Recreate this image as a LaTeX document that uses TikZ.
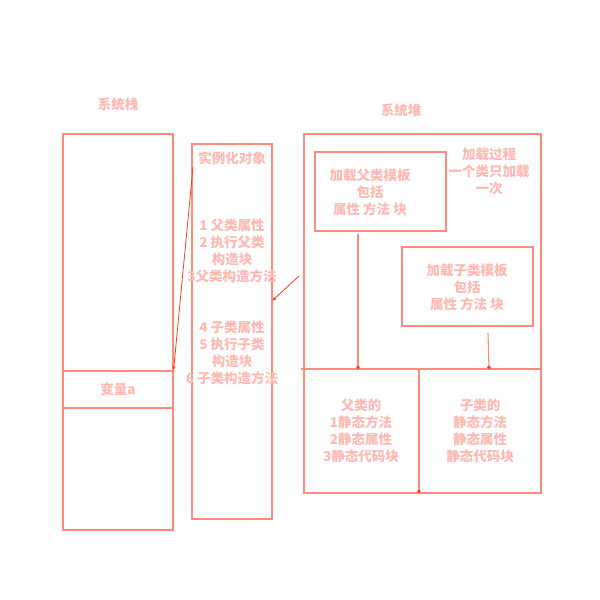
\documentclass[tikz,border=0pt]{standalone}
\usepackage{fontspec}
\setmainfont{Noto Sans CJK SC}
\usetikzlibrary{arrows.meta}
\definecolor{boxc}{RGB}{255,140,122}
\definecolor{txtc}{RGB}{255,185,178}
\definecolor{arrc}{RGB}{255,60,35}
\tikzset{
  box/.style={draw=boxc, line width=1.1pt, inner sep=0pt, minimum width=#1},
  lbl/.style={text=txtc, font=\fontsize{13.5}{17}\selectfont\bfseries, align=center, inner sep=0pt},
  arr/.style={draw=arrc, line width=0.8pt, -{Latex[length=4pt,width=3.5pt]}},
  dotend/.style={draw=boxc, line width=1.1pt, -{Circle[length=3.5pt,fill=arrc,color=arrc]}},
  plain/.style={draw=boxc, line width=1.1pt}
}
\begin{document}
\begin{tikzpicture}[x=1pt,y=-1pt]
\useasboundingbox (0,0) rectangle (600,600);
% stack
\node[lbl] (stacklbl) at (118,104) {系统栈};
\draw[plain] (63,134) rectangle (173,530);
\node[box=110pt, minimum height=37pt] (vara) at (118,389.5) {};
\node[lbl] at (vara) {变量a};
% object
\draw[plain] (192,144) rectangle (272,519);
\coordinate (objR) at (272,301);
\node[lbl] (inst) at (232,158) {实例化对象};
\node[lbl] (blk1) at (232,251) {1 父类属性\\2 执行父类\\构造块\\3父类构造方法};
\node[lbl] (blk2) at (232,352.5) {4 子类属性\\5 执行子类\\构造块\\6 子类构造方法};
% heap
\node[lbl] (heaplbl) at (401,110) {系统堆};
\draw[plain] (304,134) rectangle (541,493);
\node[box=131pt, minimum height=79pt] (ptpl) at (380.5,191.5) {};
\node[lbl] at (370,192) {加载父类模板\\包括\\属性 方法 块};
\node[lbl] (note) at (489,171.5) {加载过程\\一个类只加载\\一次};
\node[box=131pt, minimum height=79pt] (ctpl) at (467.5,286.5) {};
\node[lbl] at (467,287) {加载子类模板\\包括\\属性 方法 块};
\coordinate (hl) at (301,369);
\coordinate (hr) at (541,369);
\draw[plain] (hl) -- (hr);
\coordinate (pdot) at (358,369);
\coordinate (cdot) at (489,369);
\coordinate (ptop) at (358,234);
\coordinate (ctop) at (488,333);
\draw[dotend] (ptop) -- (pdot);
\draw[dotend] (ctop) -- (cdot);
\coordinate (mtop) at (419,369);
\coordinate (mbot) at (419,493);
\draw[dotend] (mtop) -- (mbot);
\node[lbl] (pstatic) at (361,430.5) {父类的\\1静态方法\\2静态属性\\3静态代码块};
\node[lbl] (cstatic) at (480,430.5) {子类的\\静态方法\\静态属性\\静态代码块};
% arrows
\coordinate (a1s) at (193,167);
\draw[arr] (a1s) -- (vara.north east);
\coordinate (a2s) at (299,276);
\draw[arr] (a2s) -- (objR);
\end{tikzpicture}
\end{document}
